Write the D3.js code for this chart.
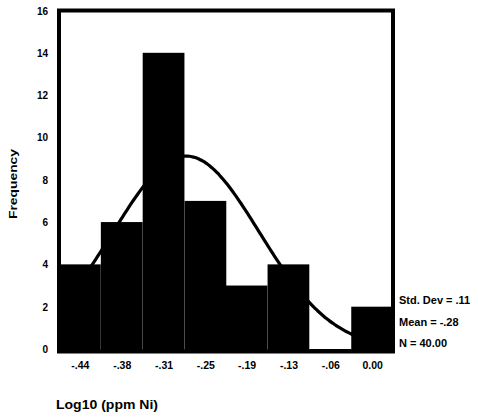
<!DOCTYPE html>
<html>
<head>
<meta charset="utf-8">
<script src="https://cdn.jsdelivr.net/npm/d3@7"></script>
<style>
  html, body { margin: 0; padding: 0; background: #fff; }
  svg { display: block; }
  text { font-family: "Liberation Sans", Arial, sans-serif; font-weight: bold; fill: #000; }
</style>
</head>
<body>
<svg id="chart" width="478" height="419"></svg>
<script>
// Histogram of Log10 (ppm Ni) with fitted normal curve
const binCenters = [-0.44, -0.377, -0.314, -0.251, -0.189, -0.126, -0.063, 0.0];
const tickLabels = ["-.44", "-.38", "-.31", "-.25", "-.19", "-.13", "-.06", "0.00"];
const frequencies = [4, 6, 14, 7, 3, 4, 0, 2];
const yTicks = [0, 2, 4, 6, 8, 10, 12, 14, 16];
const stdDev = 0.11;
const mean = -0.28;
const nCases = 40;
const statLines = ["Std. Dev = .11", "Mean = -.28", "N = 40.00"];

const svg = d3.select("#chart");
const plotLeft = 59, plotRight = 393, plotTop = 10.5, plotBottom = 349;

const binWidth = (binCenters[binCenters.length - 1] - binCenters[0]) / (binCenters.length - 1);
const x = d3.scaleLinear()
  .domain([binCenters[0] - binWidth / 2, binCenters[binCenters.length - 1] + binWidth / 2])
  .range([plotLeft, plotRight]);
const y = d3.scaleLinear().domain([0, 16]).range([plotBottom, plotTop]);

const bins = binCenters.map((c, i) => ({ c, f: frequencies[i], label: tickLabels[i] }));

// bars
svg.append("g").selectAll("rect").data(bins).join("rect")
  .attr("x", d => x(d.c - binWidth / 2))
  .attr("width", d => x(d.c + binWidth / 2) - x(d.c - binWidth / 2))
  .attr("y", d => y(d.f))
  .attr("height", d => y(0) - y(d.f) + 2)
  .attr("fill", "#000");

// normal curve from the stated mean, std. dev and N
const dom = x.domain();
const curvePts = d3.range(0, 201).map(i => {
  const v = dom[0] + (dom[1] - dom[0]) * i / 200;
  const z = (v - mean) / stdDev;
  return [v, nCases * binWidth / (stdDev * Math.sqrt(2 * Math.PI)) * Math.exp(-0.5 * z * z)];
});
svg.append("path")
  .datum(curvePts)
  .attr("d", d3.line().x(d => x(d[0])).y(d => y(d[1])).curve(d3.curveBasis))
  .attr("fill", "none")
  .attr("stroke", "#000")
  .attr("stroke-width", 3.2);

// frame
svg.append("rect")
  .attr("x", plotLeft).attr("y", plotTop)
  .attr("width", plotRight - plotLeft).attr("height", plotBottom + 2.5 - plotTop)
  .attr("fill", "none").attr("stroke", "#000").attr("stroke-width", 4);

// y axis labels
const yAxis = d3.axisLeft(y).tickValues(yTicks).tickSize(0).tickPadding(0);
const gy = svg.append("g").attr("transform", `translate(${plotLeft - 11},0)`).call(yAxis);
gy.select(".domain").remove();
gy.attr("font-family", null).attr("font-size", null);
gy.selectAll("text").attr("font-size", 10).attr("dy", "0.35em");

// x axis labels
const xAxis = d3.axisBottom(x).tickValues(binCenters).tickSize(0).tickPadding(0)
  .tickFormat((d, i) => tickLabels[i]);
const gx = svg.append("g").attr("transform", `translate(0,${plotBottom + 13})`).call(xAxis);
gx.select(".domain").remove();
gx.attr("font-family", null).attr("font-size", null);
gx.selectAll("text").attr("font-size", 10.5).attr("dy", "0.71em");

// axis titles
svg.append("text")
  .attr("transform", `translate(17,184) rotate(-90)`)
  .attr("text-anchor", "middle")
  .attr("font-size", 11)
  .attr("textLength", 70).attr("lengthAdjust", "spacingAndGlyphs")
  .text("Frequency");

svg.append("text")
  .attr("x", 56).attr("y", 409)
  .attr("font-size", 13)
  .attr("textLength", 102).attr("lengthAdjust", "spacingAndGlyphs")
  .text("Log10 (ppm Ni)");

// summary statistics
svg.append("g").selectAll("text").data(statLines).join("text")
  .attr("x", 399)
  .attr("y", (d, i) => 304 + i * 21.5)
  .attr("font-size", 11)
  .text(d => d);
</script>
</body>
</html>
